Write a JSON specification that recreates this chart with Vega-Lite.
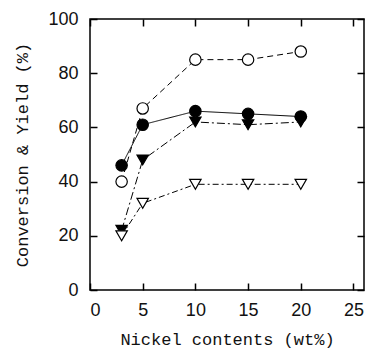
{
  "$schema": "https://vega.github.io/schema/vega-lite/v6.json",
  "autosize": "none",
  "width": 274,
  "height": 271,
  "padding": {"left": 90, "top": 19, "right": 16, "bottom": 70},
  "config": {
    "view": {"stroke": "black", "strokeWidth": 1.5},
    "axis": {"labelFont": "Liberation Sans", "labelFontSize": 18, "labelColor": "#111",
      "titleFont": "Liberation Mono", "titleFontSize": 17, "titleFontWeight": "normal", "titleColor": "#111"}
  },
  "data": {"values": [
    {"ni": 3, "y": 40, "s": "A"}, {"ni": 5, "y": 67, "s": "A"}, {"ni": 10, "y": 85, "s": "A"}, {"ni": 15, "y": 85, "s": "A"}, {"ni": 20, "y": 88, "s": "A"},
    {"ni": 3, "y": 46, "s": "B"}, {"ni": 5, "y": 61, "s": "B"}, {"ni": 10, "y": 66, "s": "B"}, {"ni": 15, "y": 65, "s": "B"}, {"ni": 20, "y": 64, "s": "B"},
    {"ni": 3, "y": 22, "s": "C"}, {"ni": 5, "y": 48, "s": "C"}, {"ni": 10, "y": 62, "s": "C"}, {"ni": 15, "y": 61, "s": "C"}, {"ni": 20, "y": 62, "s": "C"},
    {"ni": 3, "y": 20, "s": "D"}, {"ni": 5, "y": 32, "s": "D"}, {"ni": 10, "y": 39, "s": "D"}, {"ni": 15, "y": 39, "s": "D"}, {"ni": 20, "y": 39, "s": "D"}
  ]},
  "resolve": {"axis": {"x": "independent", "y": "independent"}},
  "layer": [
    {
      "mark": {"type": "line", "color": "black", "strokeWidth": 1},
      "encoding": {
        "x": {"field": "ni", "type": "quantitative", "scale": {"domain": [0, 25]},
          "axis": {"tickCount": 5, "title": "Nickel contents (wt%)", "labelPadding": 11, "titlePadding": 12,
            "grid": false, "domain": false, "tickSize": 7, "tickColor": "black", "tickWidth": 1.5, "offset": -7}},
        "y": {"field": "y", "type": "quantitative", "scale": {"domain": [0, 100]},
          "axis": {"tickCount": 5, "title": "Conversion & Yield (%)", "labelPadding": 12, "titlePadding": 16,
            "grid": false, "domain": false, "tickSize": 7, "tickColor": "black", "tickWidth": 1.5, "offset": -7}},
        "detail": {"field": "s"},
        "strokeDash": {"field": "s", "type": "nominal", "legend": null,
          "scale": {"domain": ["A", "B", "C", "D"], "range": [[6, 4], [1, 0], [8, 3, 2, 3], [6, 3, 2, 3]]}}
      }
    },
    {
      "mark": {"type": "point", "stroke": "black", "strokeWidth": 1.2, "opacity": 1, "filled": false},
      "encoding": {
        "x": {"field": "ni", "type": "quantitative",
          "axis": {"orient": "top", "tickCount": 5, "labels": false, "title": null,
            "grid": false, "domain": false, "tickSize": 7, "tickColor": "black", "tickWidth": 1.5, "offset": -7}},
        "y": {"field": "y", "type": "quantitative",
          "axis": {"orient": "right", "tickCount": 5, "labels": false, "title": null,
            "grid": false, "domain": false, "tickSize": 7, "tickColor": "black", "tickWidth": 1.5, "offset": -7}},
        "shape": {"field": "s", "type": "nominal", "legend": null,
          "scale": {"domain": ["A", "B", "C", "D"], "range": ["circle", "circle", "triangle-down", "triangle-down"]}},
        "fill": {"field": "s", "type": "nominal", "legend": null,
          "scale": {"domain": ["A", "B", "C", "D"], "range": ["white", "black", "black", "white"]}},
        "size": {"value": 130}
      }
    }
  ]
}
